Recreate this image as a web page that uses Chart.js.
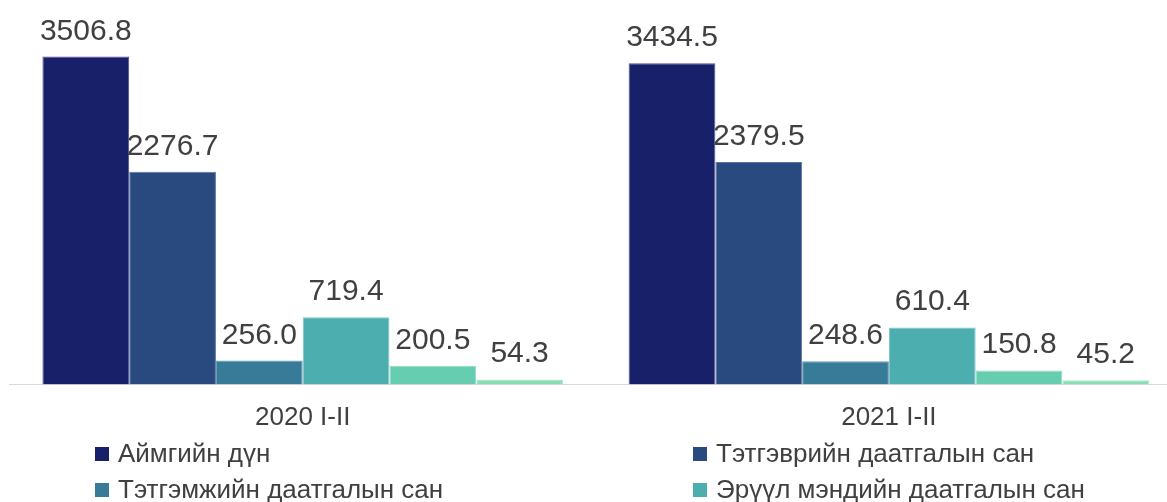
<!DOCTYPE html>
<html>
<head>
<meta charset="utf-8">
<script src="https://cdn.jsdelivr.net/npm/chart.js@4.4.1/dist/chart.umd.min.js"></script>
<style>
  html, body { margin:0; padding:0; background:#fff; width:1167px; height:502px; overflow:hidden; }
  #wrap { position:relative; width:1167px; height:502px; overflow:hidden; }
  #cv { position:absolute; left:0; top:0; }
  #legend { position:absolute; left:0; top:0; width:1167px; font-family:"Liberation Sans", Arial, sans-serif; font-size:26px; line-height:30px; color:#404040; }
  .li { position:absolute; white-space:nowrap; display:flex; align-items:center; }
  .sw { width:14px; height:14px; margin-right:9px; flex:none; position:relative; top:1px; }
</style>
</head>
<body>
<div id="wrap">
  <canvas id="cv" width="1192" height="440" style="width:1192px;height:440px;"></canvas>
  <div id="legend"></div>
</div>
<script>
const categories = ["2020 I-II", "2021 I-II"];
const seriesNames = [
  "Аймгийн дүн",
  "Тэтгэврийн даатгалын сан",
  "Тэтгэмжийн даатгалын сан",
  "Эрүүл мэндийн даатгалын сан",
  "Үйлдвэрлэлийн осол, мэргэжлээс шалтгаалах өвчний даатгалын сан",
  "Ажилгүйдлийн даатгалын сан"
];
const totalValues = [3506.8, 3434.5];
const pensionValues = [2276.7, 2379.5];
const benefitValues = [256.0, 248.6];
const healthValues = [719.4, 610.4];
const accidentValues = [200.5, 150.8];
const unemploymentValues = [54.3, 45.2];
const seriesValues = [totalValues, pensionValues, benefitValues, healthValues, accidentValues, unemploymentValues];

const colors = ["#19206a", "#284a7f", "#377b98", "#4caeaf", "#67cdb0", "#88deb4"];
const borders = ["#4b5390", "#5874a0", "#6a9ab2", "#7cc4c5", "#93dbc6", "#aee8ca"];

const FONT = '"Liberation Sans", Arial, sans-serif';

const labelPlugin = {
  id: 'valueLabels',
  afterDatasetsDraw(chart) {
    const ctx = chart.ctx;
    ctx.save();
    ctx.font = '30px ' + FONT;
    ctx.fillStyle = '#404040';
    ctx.textAlign = 'center';
    ctx.textBaseline = 'alphabetic';
    chart.data.datasets.forEach((ds, di) => {
      const meta = chart.getDatasetMeta(di);
      meta.data.forEach((bar, i) => {
        ctx.fillText(ds.data[i].toFixed(1), bar.x, bar.y - 17);
      });
    });
    ctx.restore();
  }
};

new Chart(document.getElementById('cv'), {
  type: 'bar',
  data: {
    labels: categories,
    datasets: seriesValues.map((vals, i) => ({
      label: seriesNames[i],
      data: vals,
      backgroundColor: colors[i],
      borderColor: borders[i],
      borderWidth: 1,
      categoryPercentage: 0.888,
      barPercentage: 1.0
    }))
  },
  options: {
    responsive: false,
    animation: false,
    devicePixelRatio: 1,
    layout: { padding: { left: 9.6, right: 10, top: 10.5, bottom: 0 } },
    plugins: { legend: { display: false }, tooltip: { enabled: false } },
    scales: {
      x: {
        grid: { display: false, drawTicks: false },
        border: { display: true, color: '#d9d9d9', width: 1 },
        ticks: { color: '#404040', font: { family: FONT, size: 26 }, padding: 18 },
        afterFit: (s) => { s.height = 55.5; }
      },
      y: {
        display: false,
        min: 0,
        max: 4000
      }
    }
  },
  plugins: [labelPlugin]
});

// HTML legend in two columns
const legend = document.getElementById('legend');
const colX = [95, 693];
const rowY = [438, 474, 510];
seriesNames.forEach((name, i) => {
  const d = document.createElement('div');
  d.className = 'li';
  d.style.left = colX[i % 2] + 'px';
  d.style.top = rowY[Math.floor(i / 2)] + 'px';
  const sw = document.createElement('span');
  sw.className = 'sw';
  sw.style.background = colors[i];
  const t = document.createElement('span');
  t.textContent = name;
  d.appendChild(sw);
  d.appendChild(t);
  legend.appendChild(d);
});
</script>
</body>
</html>
